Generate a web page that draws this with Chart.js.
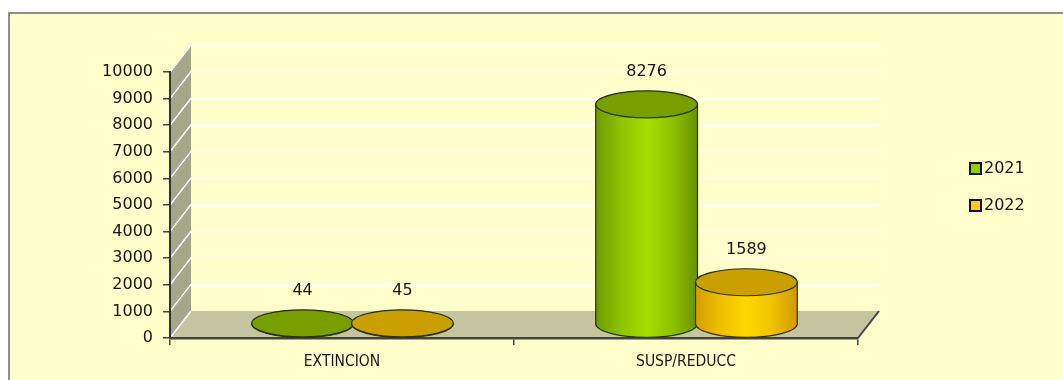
<!DOCTYPE html>
<html lang="es">
<head>
  <meta charset="UTF-8">
  <title>EXTINCION y SUSP/REDUCC 2021-2022</title>
  <script src="https://cdn.jsdelivr.net/npm/chart.js"></script>
  <style>
    html, body { margin: 0; padding: 0; background: #fff; overflow: hidden; }
    #frame {
      position: absolute; left: 8px; top: 12px; width: 1080px; height: 400px;
      background: #ffffcc; border: 2px solid #8e8e8e;
    }
    #wrap { position: absolute; left: 0; top: 0; width: 1063px; height: 380px; }
  </style>
</head>
<body>
  <div id="frame"></div>
  <div id="wrap"><canvas id="cylChart"></canvas></div>
  <script>
    const categories = ['EXTINCION', 'SUSP/REDUCC'];
    const years = ['2021', '2022'];
    const values2021 = [44, 8276];
    const values2022 = [45, 1589];
    const yTicks = [0, 1000, 2000, 3000, 4000, 5000, 6000, 7000, 8000, 9000, 10000];

    // depth of the 3D box (back wall offset)
    const DX = 21, DY = -27;
    const RY = 13.5;
    const TEXT = '#161616';

    const looks = [
      { body: ['#6f9a00', '#8cc400', '#a4e000', '#8dc200', '#6a9200'], top: '#779f00', key: '#99cc00' },
      { body: ['#d49e00', '#eec000', '#ffd700', '#efc200', '#d09a00'], top: '#c9a000', key: '#ffcc00' }
    ];

    const box3d = {
      id: 'box3d',
      beforeDraw(chart) {
        const { ctx, chartArea: a, scales: { y } } = chart;
        const y0 = y.getPixelForValue(0);
        const yMax = y.getPixelForValue(10000);
        ctx.save();
        // left wall
        ctx.fillStyle = '#a6a688';
        ctx.beginPath();
        ctx.moveTo(a.left, yMax);
        ctx.lineTo(a.left + DX, yMax + DY);
        ctx.lineTo(a.left + DX, y0 + DY);
        ctx.lineTo(a.left, y0);
        ctx.closePath();
        ctx.fill();
        // floor
        ctx.fillStyle = '#c4c4a1';
        ctx.beginPath();
        ctx.moveTo(a.left, y0);
        ctx.lineTo(a.left + DX, y0 + DY);
        ctx.lineTo(a.right + DX, y0 + DY);
        ctx.lineTo(a.right, y0);
        ctx.closePath();
        ctx.fill();
        // gridlines on the back wall and left wall
        ctx.strokeStyle = '#ffffff';
        ctx.lineWidth = 1.5;
        yTicks.forEach(v => {
          const py = y.getPixelForValue(v);
          ctx.beginPath();
          ctx.moveTo(a.left, py);
          ctx.lineTo(a.left + DX, py + DY);
          if (v > 0) ctx.lineTo(a.right + DX, py + DY);
          ctx.stroke();
        });
        // right edge of the floor
        ctx.strokeStyle = '#444';
        ctx.lineWidth = 2;
        ctx.beginPath();
        ctx.moveTo(a.right, y0);
        ctx.lineTo(a.right + DX, y0 + DY);
        ctx.stroke();
        ctx.restore();
      },
      afterDatasetsDraw(chart) {
        const { ctx } = chart;
        ctx.save();
        chart.data.datasets.forEach((ds, di) => {
          const look = looks[di];
          chart.getDatasetMeta(di).data.forEach((bar, i) => {
            const cx = bar.x + DX / 2;
            const rx = bar.width / 2 + 1;
            const top = bar.y + DY / 2;
            const base = bar.base + DY / 2;
            const g = ctx.createLinearGradient(cx - rx, 0, cx + rx, 0);
            look.body.forEach((c, k) => g.addColorStop(k / (look.body.length - 1), c));
            ctx.lineWidth = 1.2;
            ctx.strokeStyle = '#2a2f00';
            ctx.fillStyle = g;
            ctx.beginPath();
            ctx.moveTo(cx - rx, top);
            ctx.lineTo(cx - rx, base);
            ctx.ellipse(cx, base, rx, RY, 0, Math.PI, 0, true);
            ctx.lineTo(cx + rx, top);
            ctx.closePath();
            ctx.fill();
            ctx.stroke();
            ctx.fillStyle = look.top;
            ctx.beginPath();
            ctx.ellipse(cx, top, rx, RY, 0, 0, Math.PI * 2);
            ctx.fill();
            ctx.stroke();
            // value label
            ctx.fillStyle = TEXT;
            ctx.font = '16px "DejaVu Sans"';
            ctx.textAlign = 'center';
            ctx.textBaseline = 'middle';
            ctx.fillText(String(ds.data[i]), cx, top - RY - 19);
          });
        });
        ctx.restore();
      },
      afterDraw(chart) {
        const { ctx } = chart;
        ctx.save();
        ctx.font = '16px "DejaVu Sans"';
        ctx.textBaseline = 'middle';
        ctx.textAlign = 'left';
        chart.data.datasets.forEach((ds, di) => {
          const cy = 168 + di * 37;
          ctx.fillStyle = looks[di].key;
          ctx.strokeStyle = '#111';
          ctx.lineWidth = 2;
          ctx.fillRect(970, cy - 5, 11, 11);
          ctx.strokeRect(970, cy - 5, 11, 11);
          ctx.fillStyle = TEXT;
          ctx.fillText(ds.label, 984, cy + 1);
        });
        ctx.restore();
      }
    };

    new Chart(document.getElementById('cylChart'), {
      type: 'bar',
      data: {
        labels: categories,
        datasets: [
          { label: years[0], data: values2021, backgroundColor: 'rgba(0,0,0,0)' },
          { label: years[1], data: values2022, backgroundColor: 'rgba(0,0,0,0)' }
        ]
      },
      options: {
        responsive: true,
        maintainAspectRatio: false,
        animation: false,
        layout: { padding: { top: 72, right: 205, bottom: 0, left: 0 } },
        datasets: { bar: { categoryPercentage: 0.58, barPercentage: 1.0 } },
        plugins: { legend: { display: false }, tooltip: { enabled: false } },
        scales: {
          y: {
            min: 0, max: 10000,
            afterFit: s => { s.width = 170; },
            afterBuildTicks: s => { s.ticks = yTicks.map(v => ({ value: v })); },
            ticks: { color: TEXT, padding: 10, font: { family: 'DejaVu Sans', size: 16 }, callback: v => String(v) },
            grid: { drawOnChartArea: false, drawTicks: true, tickLength: 7, color: '#444', lineWidth: 1.5 },
            border: { display: true, color: '#333', width: 2 }
          },
          x: {
            afterFit: s => { s.height = 42; },
            ticks: { color: TEXT, padding: 8, font: { family: 'DejaVu Sans Condensed', size: 15.5 } },
            grid: { drawOnChartArea: false, drawTicks: true, tickLength: 7, color: '#444', lineWidth: 1.5, offset: true },
            border: { display: true, color: '#444', width: 2.5 }
          }
        }
      },
      plugins: [box3d]
    });
  </script>
</body>
</html>
